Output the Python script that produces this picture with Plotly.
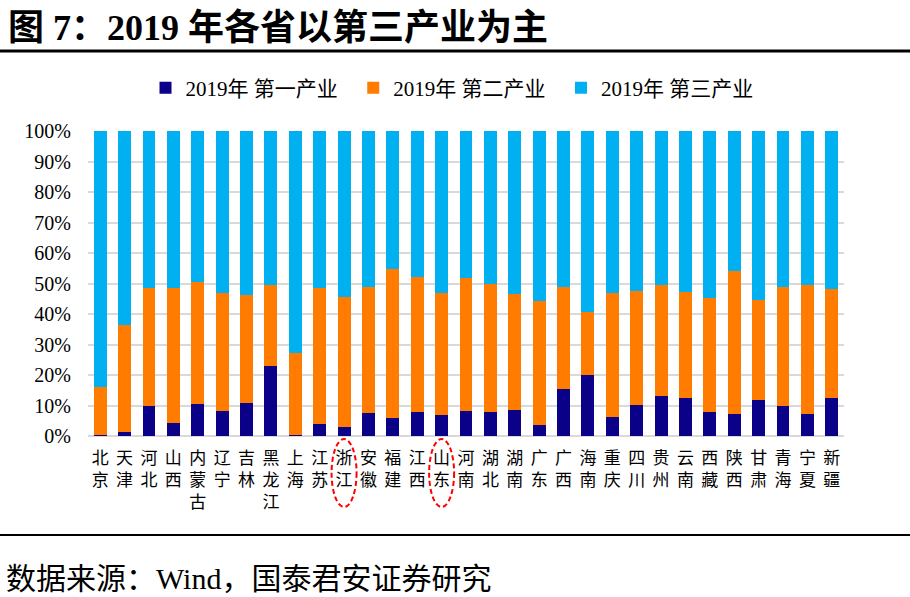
import plotly.graph_objects as go

provinces = ["北京", "天津", "河北", "山西", "内蒙古", "辽宁", "吉林", "黑龙江", "上海", "江苏",
             "浙江", "安徽", "福建", "江西", "山东", "河南", "湖北", "湖南", "广东", "广西",
             "海南", "重庆", "四川", "贵州", "云南", "西藏", "陕西", "甘肃", "青海", "宁夏", "新疆"]
primary = [0.3, 1.2, 9.8, 4.4, 10.5, 8.3, 10.9, 23.1, 0.3, 4.0,
           3.1, 7.7, 5.8, 8.0, 6.9, 8.3, 8.0, 8.6, 3.7, 15.5,
           20.1, 6.1, 10.1, 13.2, 12.6, 8.0, 7.3, 11.9, 9.8, 7.3, 12.6]
secondary = [15.9, 35.1, 38.8, 44.2, 39.9, 38.5, 35.2, 26.5, 26.8, 44.6,
             42.6, 41.2, 48.8, 44.1, 39.9, 43.5, 41.7, 37.8, 40.6, 33.4,
             20.6, 40.7, 37.3, 36.4, 34.5, 37.4, 46.7, 32.7, 39.1, 42.3, 35.6]
tertiary = [83.8, 63.7, 51.4, 51.4, 49.6, 53.2, 53.9, 50.4, 72.9, 51.4,
            54.3, 51.1, 45.4, 47.9, 53.2, 48.2, 50.3, 53.6, 55.7, 51.1,
            59.3, 53.2, 52.6, 50.4, 52.9, 54.6, 46.0, 55.4, 51.1, 50.4, 51.8]
series_names = ["2019年 第一产业", "2019年 第二产业", "2019年 第三产业"]
colors = ["#0b0088", "#ff7c00", "#00b0f0"]
highlighted = ["浙江", "山东"]

labels = ["<br>".join(list(p)) for p in provinces]

FONT = "Liberation Serif, Noto Sans CJK SC, serif"
PAD = "\u00a0\u00a0"

fig = go.Figure()
for k, (name, vals, col) in enumerate(zip(series_names, [primary, secondary, tertiary], colors)):
    shown = name + (PAD if k < len(series_names) - 1 else "")
    fig.add_trace(go.Bar(x=labels, y=vals, name=shown, marker=dict(color=col, line=dict(width=0))))

W, H = 910, 597
L, R, T, B = 88, 66, 131, 161
pw, ph = W - L - R, H - T - B
n = len(provinces)

def px_x(x):
    return (x - L) / pw

def px_y(y):
    return (H - B - y) / ph

shapes = []
# top and bottom black rules
for yy, wd in [(51, 3), (535, 2)]:
    shapes.append(dict(type="line", xref="paper", yref="paper", x0=px_x(0), x1=px_x(W),
                       y0=px_y(yy), y1=px_y(yy), line=dict(color="black", width=wd)))
# red dashed ellipses around highlighted labels
for h in highlighted:
    i = provinces.index(h)
    xc = (i + 0.5) / n
    half = 12.5 / pw
    shapes.append(dict(type="circle", xref="paper", yref="paper", x0=xc - half, x1=xc + half,
                       y0=px_y(507), y1=px_y(439),
                       line=dict(color="#ff0000", width=2, dash="5px,3px")))

fig.update_layout(
    width=W, height=H,
    margin=dict(l=L, r=R, t=T, b=B, autoexpand=False),
    barmode="stack", bargap=0.47,
    plot_bgcolor="white", paper_bgcolor="white",
    font=dict(family=FONT, color="black", size=17),
    title=dict(text="<b>图 7：2019 年各省以第三产业为主</b>", xref="container", yref="container",
               x=8 / W, y=1 - 27 / H, xanchor="left", yanchor="middle",
               font=dict(family=FONT, size=36, color="black")),
    legend=dict(orientation="h", xref="paper", yref="paper", x=px_x(452), y=px_y(88),
                xanchor="center", yanchor="middle", font=dict(family=FONT, size=21),
                itemwidth=30, traceorder="normal"),
    xaxis=dict(showgrid=False, showline=False, ticks="", tickangle=0,
               tickfont=dict(family=FONT, size=17), ticklabelstandoff=10,
               fixedrange=True, automargin=False),
    yaxis=dict(range=[0, 100], dtick=10, ticksuffix="%", showgrid=True, gridcolor="#d9d9d9",
               gridwidth=1.5, zeroline=True, zerolinecolor="#d9d9d9", zerolinewidth=1.5,
               tickfont=dict(family=FONT, size=20), ticks="", ticklabelstandoff=16,
               fixedrange=True, automargin=False),
    shapes=shapes,
    annotations=[dict(text="数据来源：Wind，国泰君安证券研究", xref="paper", yref="paper",
                      x=px_x(4), y=px_y(578), xanchor="left", yanchor="middle", showarrow=False,
                      font=dict(family=FONT, size=30, color="black"))],
)

fig.write_html("out.html", config={"displayModeBar": False},
               post_script="document.body.style.margin='0';document.body.style.padding='0';")
